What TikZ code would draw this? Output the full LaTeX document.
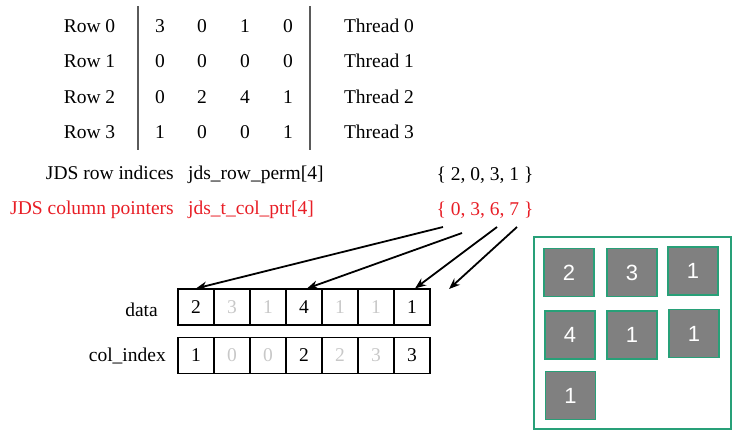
\documentclass[tikz,border=0pt]{standalone}
\usepackage{fontspec}
\setmainfont{Liberation Serif}
\newfontfamily\sansf{Liberation Sans}
\usetikzlibrary{arrows.meta}
\definecolor{jdsred}{RGB}{232,30,38}
\definecolor{jdsgreen}{RGB}{40,160,120}
\definecolor{tilegray}{RGB}{128,128,128}
\definecolor{faint}{RGB}{200,200,200}
\definecolor{rule}{RGB}{90,90,90}
\tikzset{
  txt/.style={inner sep=0pt, font=\fontsize{19.5}{22}\selectfont, anchor=base},
  cell/.style={draw=black, line width=1.1pt, minimum width=36pt, minimum height=36pt, inner sep=0pt, font=\fontsize{19.5}{22}\selectfont},
  faintcell/.style={cell, text=faint},
  tile/.style={draw=jdsgreen, line width=1.8pt, fill=tilegray, minimum width=50pt, minimum height=48pt, inner sep=0pt, text=white, font=\sansf\fontsize{22}{24}\selectfont},
  ptr/.style={line width=1.8pt, -{Stealth[length=11pt,width=8.5pt]}},
  vrule/.style={draw=rule, line width=1.5pt}
}
\begin{document}
\begin{tikzpicture}[x=1pt,y=-1pt]
\useasboundingbox (0,0) rectangle (742,440);
% top table
\node[txt] (r0) at (89.5,32) {Row 0};
\node[txt] (r1) at (89.5,67) {Row 1};
\node[txt] (r2) at (89.5,103) {Row 2};
\node[txt] (r3) at (89.5,138) {Row 3};
\node[txt] (m00) at (160,32) {3};
\node[txt] (m01) at (202,32) {0};
\node[txt] (m02) at (245,32) {1};
\node[txt] (m03) at (288,32) {0};
\node[txt] (m10) at (160,67) {0};
\node[txt] (m11) at (202,67) {0};
\node[txt] (m12) at (245,67) {0};
\node[txt] (m13) at (288,67) {0};
\node[txt] (m20) at (160,103) {0};
\node[txt] (m21) at (202,103) {2};
\node[txt] (m22) at (245,103) {4};
\node[txt] (m23) at (288,103) {1};
\node[txt] (m30) at (160,138) {1};
\node[txt] (m31) at (202,138) {0};
\node[txt] (m32) at (245,138) {0};
\node[txt] (m33) at (288,138) {1};
\node[txt] (t0) at (379,32) {Thread 0};
\node[txt] (t1) at (379,67) {Thread 1};
\node[txt] (t2) at (379,103) {Thread 2};
\node[txt] (t3) at (379,138) {Thread 3};
\draw[vrule] (138,6) -- (138,150);
\draw[vrule] (310,6) -- (310,150);
% JDS info lines
\node[txt, anchor=base east] (rowlbl) at (174,179) {JDS row indices};
\node[txt, anchor=base west] (rowvar) at (188,179) {jds\_row\_perm[4]};
\node[txt] (rowval) at (485,180) {\{ 2, 0, 3, 1 \}};
\node[txt, anchor=base east, text=jdsred] (collbl) at (174,214) {JDS column pointers};
\node[txt, anchor=base west, text=jdsred] (colvar) at (188,214) {jds\_t\_col\_ptr[4]};
\node[txt, text=jdsred] (colval) at (485,215) {\{ 0, 3, 6, 7 \}};
% arrays
\node[txt, anchor=base east] (datalbl) at (158,316) {data};
\node[txt, anchor=base east] (cilbl) at (166,361) {col\_index};
\node[cell] (d0) at (196,307) {2};
\node[faintcell] (d1) at (232,307) {3};
\node[faintcell] (d2) at (268,307) {1};
\node[cell] (d3) at (304,307) {4};
\node[faintcell] (d4) at (340,307) {1};
\node[faintcell] (d5) at (376,307) {1};
\node[cell] (d6) at (412,307) {1};
\node[cell] (c0) at (196,355.5) {1};
\node[faintcell] (c1) at (232,355.5) {0};
\node[faintcell] (c2) at (268,355.5) {0};
\node[cell] (c3) at (304,355.5) {2};
\node[faintcell] (c4) at (340,355.5) {2};
\node[faintcell] (c5) at (376,355.5) {3};
\node[cell] (c6) at (412,355.5) {3};
% pointer arrows
\coordinate (s0) at (443,227);
\coordinate (s1) at (462,233);
\coordinate (s2) at (497,227);
\coordinate (s3) at (517,227);
\coordinate (dend) at (449,289);
\draw[ptr] (s0) -- (d0.north);
\draw[ptr] (s1) -- ([xshift=3pt]d3.north);
\draw[ptr] (s2) -- ([xshift=3pt]d6.north);
\draw[ptr] (s3) -- (dend);
% green panel
\node[draw=jdsgreen, line width=1.5pt, minimum width=197pt, minimum height=192pt, inner sep=0pt] (panel) at (632.5,333) {};
\node[tile] (g0) at (569,272.5) {2};
\node[tile] (g1) at (632,272.5) {3};
\node[tile] (g2) at (693,271) {1};
\node[tile] (g3) at (570,335) {4};
\node[tile] (g4) at (632,335) {1};
\node[tile] (g5) at (694,333.5) {1};
\node[tile] (g6) at (570.5,395.5) {1};
\end{tikzpicture}
\end{document}
